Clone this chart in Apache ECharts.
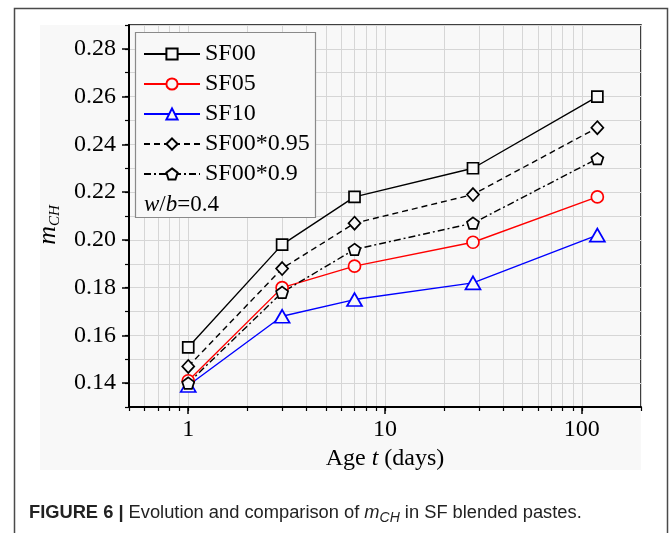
<!DOCTYPE html>
<html>
<head>
<meta charset="utf-8">
<script src="https://cdn.jsdelivr.net/npm/echarts@6/dist/echarts.min.js"></script>
<style>
html,body{margin:0;padding:0;background:#fff;}
#c{width:669px;height:533px;}
</style>
</head>
<body>
<div id="c"></div>
<script>
// ---- data ----
const ageDays = [1, 3, 7, 28, 120];
const sf00    = [0.155, 0.198, 0.218, 0.230, 0.260];
const sf05    = [0.141, 0.180, 0.189, 0.199, 0.218];
const sf10    = [0.139, 0.168, 0.175, 0.182, 0.202];
const sf00x95 = [0.147, 0.188, 0.207, 0.219, 0.247];
const sf00x90 = [0.140, 0.178, 0.196, 0.207, 0.234];
const seriesNames = ['SF00', 'SF05', 'SF10', 'SF00*0.95', 'SF00*0.9'];
const yMajorTicks = [0.14, 0.16, 0.18, 0.20, 0.22, 0.24, 0.26, 0.28];
const xMajorTicks = [1, 10, 100];
const xAllTicks = [0.5, 0.6, 0.7, 0.8, 0.9, 1, 2, 3, 4, 5, 6, 7, 8, 9, 10, 20, 30, 40, 50, 60, 70, 80, 90, 100, 200];

const pair = (ys) => ageDays.map((x, i) => [x, ys[i]]);
const serif = 'Liberation Serif';
const pentagon = 'path://M50 0 L97.55 34.55 L79.39 90.45 L20.61 90.45 L2.45 34.55 Z';
const symFill = '#f8f8f8';

const chart = echarts.init(document.getElementById('c'), null, {renderer: 'canvas'});

function mkSeries(name, ys, color, symbol, size, lineType) {
  return {
    name: name, type: 'line', xAxisIndex: 0, yAxisIndex: 0,
    data: pair(ys), symbol: symbol, symbolSize: size, showSymbol: true,
    lineStyle: {color: color, width: 1.4, type: lineType},
    itemStyle: {color: symFill, borderColor: color, borderWidth: 1.7},
    emphasis: {disabled: true}, animation: false
  };
}

const option = {
  animation: false,
  grid: {left: 129, top: 25, right: 28, bottom: 126, containLabel: false, outerBoundsMode: 'none',
         show: true, borderColor: '#000', borderWidth: 1.5, backgroundColor: 'transparent'},
  xAxis: [
    {type: 'log', logBase: 10, min: 0.5, max: 200, position: 'bottom',
     axisLine: {show: true, lineStyle: {color: '#000', width: 2}},
     axisTick: {show: true, customValues: xMajorTicks, length: 7, inside: false, lineStyle: {color: '#000', width: 1.5}},
     axisLabel: {show: true, customValues: xMajorTicks, formatter: (v) => String(Math.round(v)),
                 fontFamily: serif, fontSize: 24, color: '#000', margin: 11},
     splitLine: {show: false},
     name: '{a|Age }{i|t}{a| (days)}', nameLocation: 'middle', nameGap: 38,
     nameTextStyle: {rich: {a: {fontFamily: serif, fontSize: 24, color: '#000'},
                            i: {fontFamily: serif, fontSize: 24, fontStyle: 'italic', color: '#000'}}}},
    {type: 'log', logBase: 10, min: 0.5, max: 200, position: 'bottom',
     axisLine: {show: false},
     axisTick: {show: true, customValues: xAllTicks, length: 4, inside: false, lineStyle: {color: '#000', width: 1.2}},
     axisLabel: {show: false},
     splitLine: {show: true, lineStyle: {color: '#d6d6d6', width: 1}}}
  ],
  yAxis: [
    {type: 'value', min: 0.13, max: 0.29, interval: 0.01, position: 'left',
     axisLine: {show: true, lineStyle: {color: '#000', width: 2}},
     axisTick: {show: true, customValues: yMajorTicks, length: 7, inside: false, lineStyle: {color: '#000', width: 1.5}},
     axisLabel: {show: true, customValues: yMajorTicks, formatter: (v) => v.toFixed(2),
                 fontFamily: serif, fontSize: 24, color: '#000', margin: 13},
     splitLine: {show: false},
     name: '{m|m}{s|CH}', nameLocation: 'middle', nameRotate: 90, nameGap: 66,
     nameTextStyle: {padding: [0, 18, 0, 0],
       rich: {m: {fontFamily: serif, fontSize: 26, fontStyle: 'italic', color: '#000', lineHeight: 30, verticalAlign: 'middle'},
              s: {fontFamily: serif, fontSize: 15, fontStyle: 'italic', color: '#000', lineHeight: 15, verticalAlign: 'bottom'}}}},
    {type: 'value', min: 0.13, max: 0.29, interval: 0.01, position: 'left',
     axisLine: {show: false},
     axisTick: {show: true, length: 4, inside: false, lineStyle: {color: '#000', width: 1.2}},
     axisLabel: {show: false},
     splitLine: {show: true, lineStyle: {color: '#d6d6d6', width: 1}}}
  ],
  legend: {
    show: true, orient: 'vertical', left: 143, top: 42, itemGap: 6, padding: 0,
    itemWidth: 56, itemHeight: 14, data: seriesNames,
    textStyle: {fontFamily: serif, fontSize: 24, color: '#000', lineHeight: 23},
    selectedMode: false, z: 6
  },
  graphic: [
    {type: 'rect', z: -10, shape: {x: 40, y: 25, width: 601, height: 445}, style: {fill: '#f8f8f8'}},
    {type: 'rect', z: -9, shape: {x: 14.5, y: 8.5, width: 653, height: 600}, style: {fill: 'none', stroke: '#4a4a4a', lineWidth: 1.5}},
    {type: 'rect', z: 5, shape: {x: 135.5, y: 32.5, width: 180, height: 185}, style: {fill: '#f8f8f8', stroke: '#8a8a8a', lineWidth: 1.2}},
    {type: 'text', z: 6, left: 144, top: 193,
     style: {text: '{i|w}{r|/}{i|b}{r|=0.4}',
       rich: {i: {fontFamily: serif, fontSize: 23, fontStyle: 'italic', fill: '#000'},
              r: {fontFamily: serif, fontSize: 23, fill: '#000'}}}},
    {type: 'text', z: 6, left: 29, top: 504,
     style: {text: '{b|FIGURE 6 | }{r|Evolution and comparison of }{i|m}{s|CH}{r| in SF blended pastes.}',
       rich: {b: {fontFamily: 'Liberation Sans', fontSize: 18.3, fontWeight: 'bold', fill: '#222', lineHeight: 24, verticalAlign: 'middle'},
              r: {fontFamily: 'Liberation Sans', fontSize: 18.3, fill: '#222', lineHeight: 24, verticalAlign: 'middle'},
              i: {fontFamily: 'Liberation Sans', fontSize: 18.3, fontStyle: 'italic', fill: '#222', lineHeight: 24, verticalAlign: 'middle'},
              s: {fontFamily: 'Liberation Sans', fontSize: 14, fontStyle: 'italic', fill: '#222', lineHeight: 14, verticalAlign: 'bottom'}}}}
  ],
  series: [
    mkSeries('SF00', sf00, '#000000', 'rect', 11, 'solid'),
    mkSeries('SF05', sf05, '#ff0000', 'circle', 12, 'solid'),
    mkSeries('SF10', sf10, '#0000ff', 'triangle', [15, 13], 'solid'),
    mkSeries('SF00*0.95', sf00x95, '#000000', 'diamond', [12, 13], [6, 4]),
    mkSeries('SF00*0.9', sf00x90, '#000000', pentagon, [12, 11.5], [7, 3, 2, 3])
  ]
};
chart.setOption(option);
</script>
</body>
</html>
